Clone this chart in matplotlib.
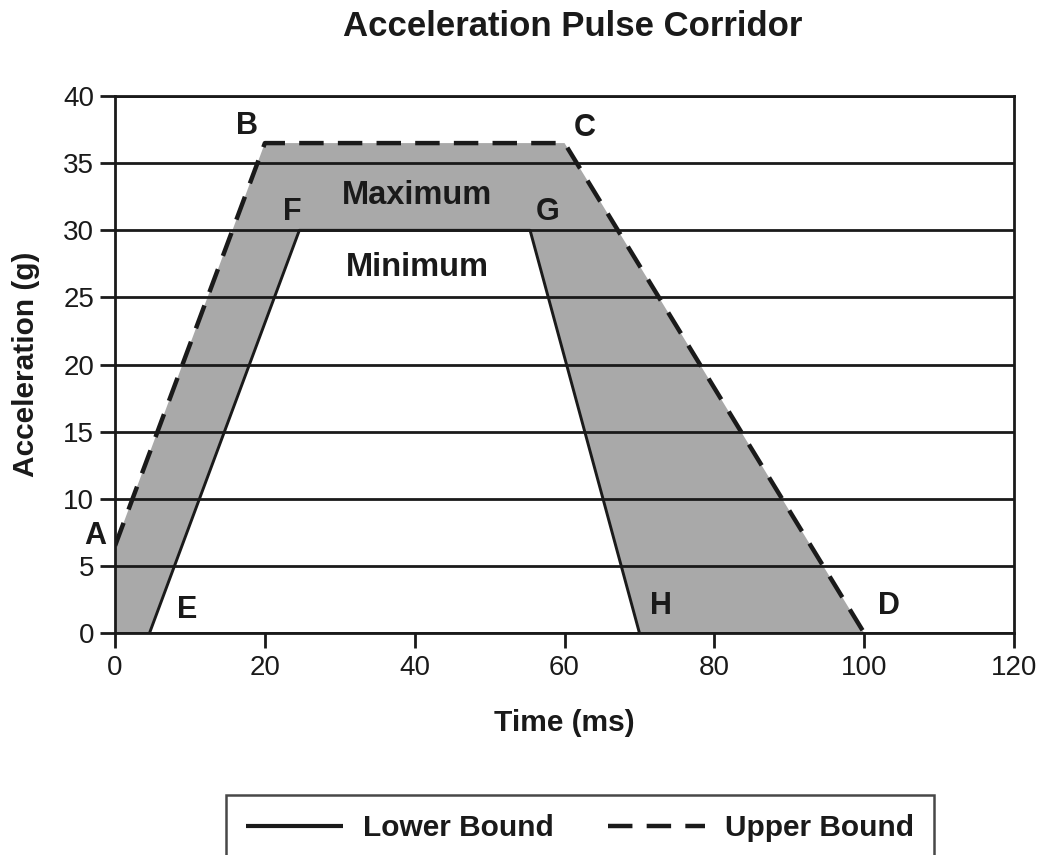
import matplotlib
matplotlib.use("Agg")
import matplotlib.pyplot as plt

plt.rcParams['font.family'] = ['Liberation Sans', 'DejaVu Sans']

# corridor points (time in ms, acceleration in g)
upper_t = [0, 20, 60, 100]
upper_g = [6.5, 36.5, 36.5, 0]
lower_t = [4.6, 24.6, 55.4, 70]
lower_g = [0, 30, 30, 0]

point_names = ['A', 'B', 'C', 'D', 'E', 'F', 'G', 'H']
label_t = [-2.7, 17.6, 62.7, 103.3, 9.6, 23.6, 57.7, 72.9]
label_g = [7.2, 37.8, 37.6, 2.0, 1.7, 31.4, 31.4, 2.0]

x_ticks = [0, 20, 40, 60, 80, 100, 120]
y_ticks = [0, 5, 10, 15, 20, 25, 30, 35, 40]

INK = '#1a1a1a'


def main():
    fig = plt.figure(figsize=(10.44, 8.55), dpi=100)
    ax = fig.add_axes([0.1102, 0.2596, 0.8611, 0.628])

    # gray band: upper bound then lower bound back, closing at origin
    poly_t = upper_t + lower_t[::-1] + [0]
    poly_g = upper_g + lower_g[::-1] + [0]
    ax.fill(poly_t, poly_g, color='#a9a9a9', lw=0, zorder=1)

    for y in y_ticks:
        ax.axhline(y, color=INK, lw=2.0, zorder=2)

    ax.plot(lower_t, lower_g, color=INK, lw=2.1, zorder=3,
            label='Lower Bound', solid_capstyle='butt')
    ax.plot(upper_t, upper_g, color=INK, lw=3.2, zorder=3,
            dashes=(5.5, 3.2), label='Upper Bound', dash_capstyle='butt')

    for name, t, g in zip(point_names, label_t, label_g):
        ax.text(t, g, name, fontsize=22, fontweight='bold', color=INK,
                ha='center', va='center', zorder=4)
    ax.text(40.3, 32.6, 'Maximum', fontsize=23.5, fontweight='bold',
            color=INK, ha='center', va='center', zorder=4)
    ax.text(40.3, 27.2, 'Minimum', fontsize=23.5, fontweight='bold',
            color=INK, ha='center', va='center', zorder=4)

    ax.set_xlim(0, 120)
    ax.set_ylim(0, 40)
    ax.set_xticks(x_ticks)
    ax.set_yticks(y_ticks)
    ax.tick_params(labelsize=20, length=11, width=2.0, color=INK,
                   labelcolor=INK, pad=4)
    ax.tick_params(axis='x', pad=5)
    for s in ax.spines.values():
        s.set_linewidth(2.0)
        s.set_color(INK)
    ax.set_xlabel('Time (ms)', fontsize=21.5, fontweight='bold', labelpad=20,
                  color=INK)
    ax.set_ylabel('Acceleration (g)', fontsize=21.5, fontweight='bold',
                  labelpad=17, color=INK)
    fig.text(573 / 1044, 1 - 27 / 855, 'Acceleration Pulse Corridor',
             fontsize=25, fontweight='bold', color=INK, ha='center',
             va='center')

    leg = fig.legend(loc='upper center', bbox_to_anchor=(0.5555, 1 - 780 / 855),
                     ncol=2, frameon=True, fancybox=False,
                     handlelength=3.25, handletextpad=0.67, columnspacing=1.84,
                     borderpad=0.65, prop={'weight': 'bold', 'size': 21.5})
    leg.get_frame().set_edgecolor(INK)
    leg.get_frame().set_linewidth(1.8)
    leg.get_lines()[0].set_linewidth(3.0)
    for t in leg.get_texts():
        t.set_color(INK)

    fig.savefig('out.png', dpi=100)


if __name__ == "__main__":
    main()
